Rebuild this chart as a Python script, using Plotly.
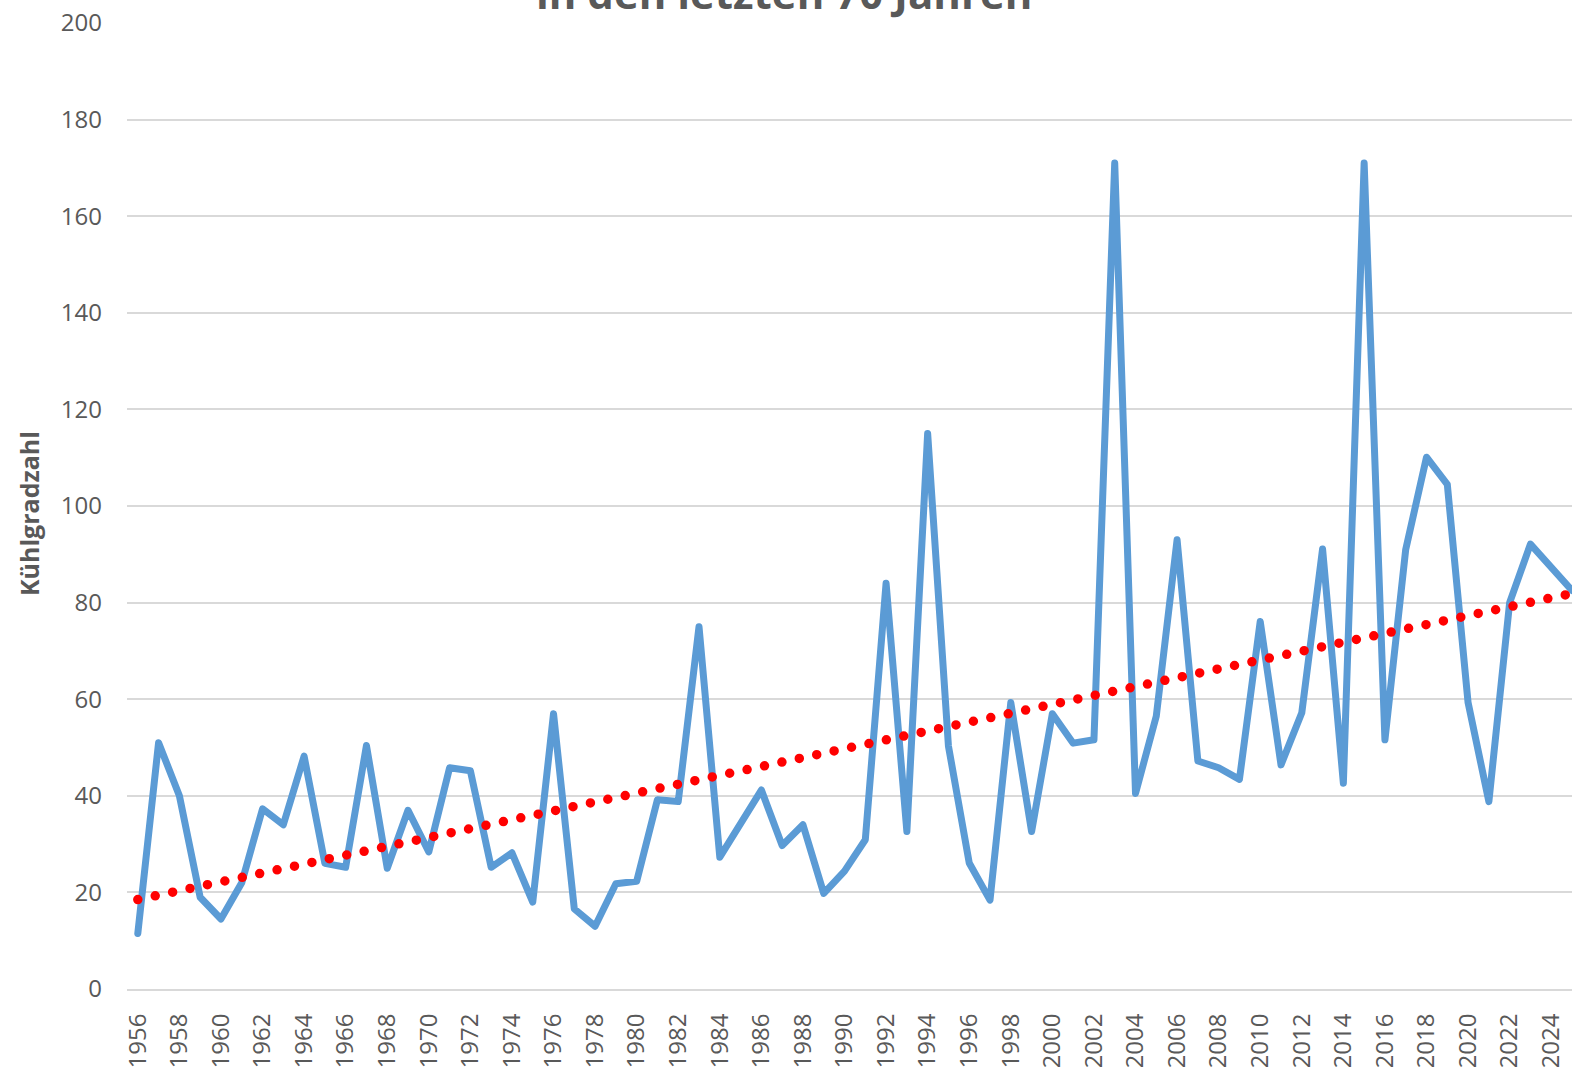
import numpy as np
import plotly.graph_objects as go

years = list(range(1956, 2026))
kuehlgradzahl = [
    11.5, 51, 40, 19, 14.5, 22, 37.3, 34, 48.2, 26,
    25.2, 50.4, 25, 37, 28.4, 45.8, 45.2, 25.2, 28.2, 18,
    57, 16.6, 13, 21.8, 22.3, 39.2, 38.8, 75, 27.3, 34.5,
    41.2, 29.7, 34, 19.8, 24.4, 30.9, 84, 32.6, 115, 50.3,
    26.1, 18.4, 59.3, 32.6, 57, 50.9, 51.6, 171, 40.5, 56.5,
    93, 47.2, 45.8, 43.4, 76.1, 46.4, 57.2, 91.1, 42.6, 171,
    51.6, 91, 110.1, 104.5, 59.3, 38.8, 80, 92.1, 87.2, 82.5,
]
y_ticks = [0, 20, 40, 60, 80, 100, 120, 140, 160, 180, 200]
title_line = "in den letzten 70 Jahren"
y_title = "Kühlgradzahl"

slope, intercept = np.polyfit(years, kuehlgradzahl, 1)
trend_x = [years[0], years[-1]]
trend_y = [slope * x + intercept for x in trend_x]

fig = go.Figure()
fig.add_trace(go.Scatter(
    x=years, y=kuehlgradzahl, mode="lines",
    line=dict(color="#5B9BD5", width=7),
    hoverinfo="skip", showlegend=False,
))
fig.add_trace(go.Scatter(
    x=trend_x, y=trend_y, mode="lines",
    line=dict(color="#FF0000", width=9.5, dash="0px,17.8px"),
    hoverinfo="skip", showlegend=False,
))

fig.update_layout(
    width=1572, height=1067,
    margin=dict(l=127, r=0, t=23, b=78, autoexpand=False),
    paper_bgcolor="white", plot_bgcolor="white",
    font=dict(family="Open Sans", color="#595959", size=24),
    xaxis=dict(
        range=[1955.48, 2025.0], tickmode="linear", tick0=1956, dtick=2,
        tickangle=-90, showgrid=False, zeroline=False,
        showline=True, linecolor="#D9D9D9", linewidth=2,
        tickfont=dict(size=24, color="#595959"),
        ticklabelstandoff=13, fixedrange=True,
    ),
    yaxis=dict(
        range=[0, 200], tickvals=y_ticks,
        showgrid=True, gridcolor="#D9D9D9", gridwidth=2,
        zeroline=False, showline=False,
        tickfont=dict(size=24, color="#595959"),
        ticklabelstandoff=24, fixedrange=True,
    ),
    annotations=[
        dict(text=f"<b>{title_line}</b>", xref="paper", yref="paper",
             x=(784 - 127) / (1572 - 127), y=1.0, xanchor="center", yanchor="bottom",
             showarrow=False, font=dict(size=42, color="#595959", family="Open Sans")),
        dict(text=f"<b>{y_title}</b>", xref="paper", yref="paper",
             x=(29 - 127) / (1572 - 127), y=(989 - 514) / 966, textangle=-90,
             xanchor="center", yanchor="middle",
             showarrow=False, font=dict(size=25, color="#595959", family="Open Sans")),
    ],
)

js = """
document.body.style.margin='0';
document.body.style.overflow='hidden';
function fixCaps(){
  var gd=document.getElementById('{plot_id}');
  if(!gd) return;
  gd.querySelectorAll('.scatterlayer .trace path.js-line').forEach(function(p){
    p.style.strokeLinecap='round';
    p.style.strokeLinejoin='round';
  });
}
fixCaps(); setTimeout(fixCaps,50); setTimeout(fixCaps,300);
"""

fig.write_html("out.html", post_script=js, config={"displayModeBar": False})
